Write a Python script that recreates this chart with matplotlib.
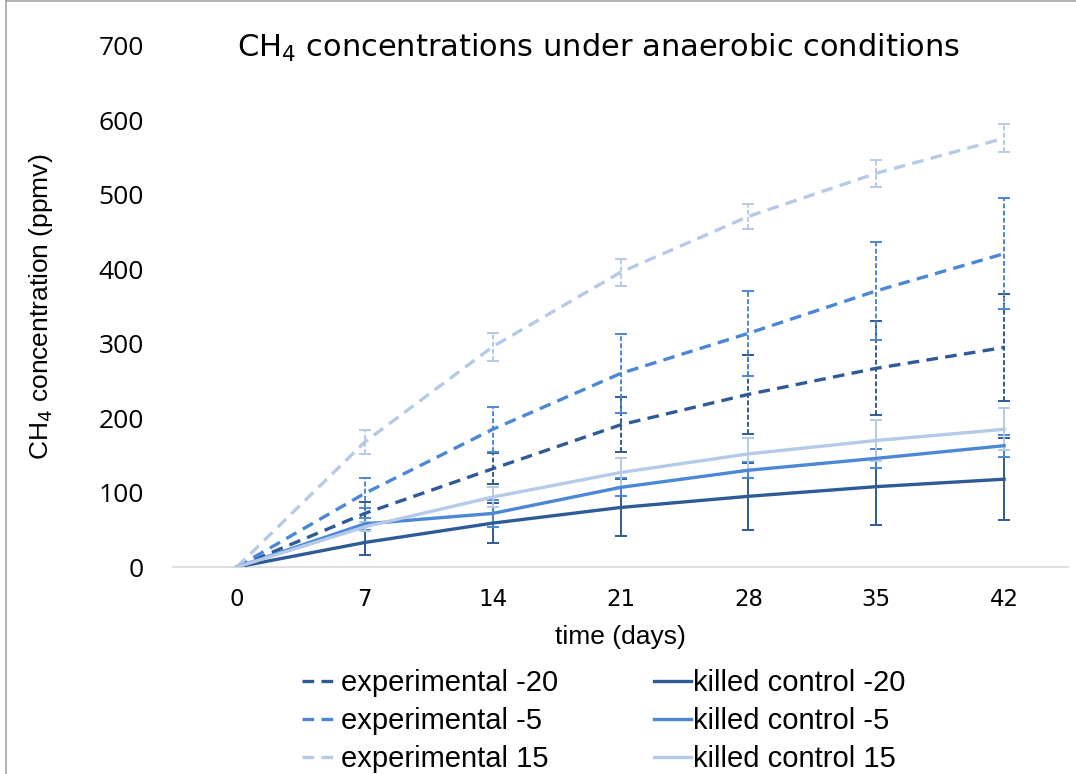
import matplotlib
matplotlib.use('Agg')
import matplotlib.pyplot as plt
from matplotlib.lines import Line2D

# --datos: CH4 (ppmv) por dia
days = [0, 7, 14, 21, 28, 35, 42]

exp_m20 = [0, 72, 132, 191, 232, 267, 295]
exp_m5 = [0, 99, 185, 260, 314, 371, 421]
exp_15 = [0, 168, 296, 396, 471, 529, 576]
kc_m20 = [0, 33, 59, 80, 95, 108, 118]
kc_m5 = [0, 58, 72, 107, 130, 146, 163]
kc_15 = [0, 54, 94, 127, 152, 170, 185]

err_exp_m20 = [0, 15, 21, 37, 53, 63, 72]
err_exp_m5 = [0, 20, 30, 53, 57, 66, 75]
err_exp_15 = [0, 16, 19, 18, 17, 18, 19]
err_kc_m20 = [0, 17, 27, 38, 45, 51, 55]
err_kc_m5 = [0, 8, 18, 12, 11, 13, 15]
err_kc_15 = [0, 6, 14, 20, 22, 27, 28]

labels = ['experimental -20', 'experimental -5', 'experimental 15',
          'killed control -20', 'killed control -5', 'killed control 15']

dark = '#2E5B95'
mid = '#4A87D5'
light = '#B5C9E8'

plt.rcParams['font.family'] = ['Open Sans', 'DejaVu Sans']

fig = plt.figure(figsize=(10.76, 7.74), dpi=100)
ax = fig.add_axes([0.1608, 0.2674, 0.8318, 0.6732])

series = [
    (exp_m20, err_exp_m20, dark, True),
    (exp_m5, err_exp_m5, mid, True),
    (exp_15, err_exp_15, light, True),
    (kc_m20, err_kc_m20, dark, False),
    (kc_m5, err_kc_m5, mid, False),
    (kc_15, err_kc_15, light, False),
]

handles = []
for (vals, errs, col, dashed), lab in zip(series, labels):
    eb = ax.errorbar(days, vals, yerr=errs, fmt='none', ecolor=col,
                     elinewidth=1.4, capsize=4, capthick=1.4, zorder=2)
    if dashed:
        eb[2][0].set_linestyle((0, (2.5, 1.2)))
    ls = (0, (3.5, 2.2)) if dashed else '-'
    ax.plot(days, vals, color=col, lw=2.4, linestyle=ls, zorder=3,
            dash_capstyle='butt')
    handles.append(Line2D([], [], color=col, lw=2.4, linestyle=ls, label=lab))

ax.set_xlim(-3.5, 45.5)
ax.set_ylim(0, 700)
ax.set_xticks(days)
ax.set_yticks(range(0, 701, 100))
ax.tick_params(axis='both', length=0, colors='black')
ax.tick_params(axis='y', pad=21, labelsize=19)
ax.tick_params(axis='x', pad=15, labelsize=16.5)
for t in ax.get_xticklabels():
    t.set_family('DejaVu Sans')

for s in ['top', 'right', 'left']:
    ax.spines[s].set_visible(False)
ax.spines['bottom'].set_color('#D9D9D9')
ax.spines['bottom'].set_linewidth(1.2)

ax.set_xlabel('time (days)', fontsize=19, family='Liberation Sans', labelpad=10)
ax.set_ylabel('CH$_4$ concentration (ppmv)', fontsize=19, family='Liberation Sans', labelpad=31)

fig.text(0.556, 0.938, 'CH$_4$ concentrations under anaerobic conditions',
         ha='center', va='center', fontsize=22, family='DejaVu Sans')

leg = fig.legend(handles=handles, ncol=2, loc='center', bbox_to_anchor=(0.561, 0.0685),
                 frameon=False, prop={'family': 'Liberation Sans', 'size': 21},
                 handlelength=1.27, handletextpad=0.05,
                 columnspacing=3.3, labelspacing=0.35)

# --borde del grafico
fig.add_artist(Line2D([0.006, 0.006], [0, 1], color='#A6A6A6', lw=1.2, transform=fig.transFigure))
fig.add_artist(Line2D([0.006, 1], [0.999, 0.999], color='#A6A6A6', lw=1.2, transform=fig.transFigure))

fig.savefig('out.png', dpi=100, facecolor='white')
